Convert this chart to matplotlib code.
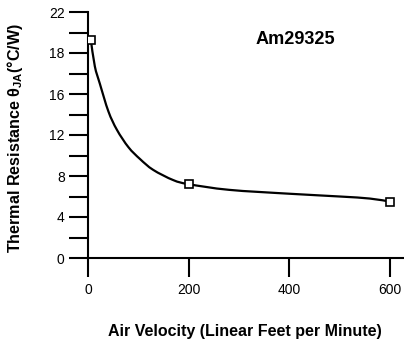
import numpy as np
import matplotlib
matplotlib.use('Agg')
import matplotlib.pyplot as plt
from matplotlib.path import Path
from matplotlib.patches import PathPatch

plt.rcParams['font.family'] = ['Liberation Sans', 'DejaVu Sans']
plt.rcParams['mathtext.fontset'] = 'custom'
plt.rcParams['mathtext.rm'] = 'Liberation Sans:bold'
plt.rcParams['mathtext.it'] = 'Liberation Sans:bold'
plt.rcParams['mathtext.bf'] = 'Liberation Sans:bold'

# measured points (air velocity, theta JA on the axis scale)
velocity = [5, 200, 600]
theta_ja = [21.3, 7.2, 5.5]

# fitted curve
curve_x = [5, 13, 23, 40, 57, 80, 103, 129, 169, 200, 280, 400, 500, 560, 600]
curve_y = [21.3, 18.7, 17.0, 14.3, 12.5, 10.8, 9.65, 8.6, 7.6, 7.2, 6.65, 6.27, 6.0, 5.8, 5.5]

x_ticks = [0, 200, 400, 600]
y_ticks = [0, 4, 8, 12, 16, 20, 24]
y_tick_labels = ['0', '4', '8', '12', '16', '18', '22']
y_minor = [2, 6, 10, 14, 18, 22]

W, H = 404, 344
x0, y0 = 88.3, 258  # pixel position of the origin
fig = plt.figure(figsize=(W / 100, H / 100), dpi=100)
ax = fig.add_axes([x0 / W, (H - y0) / H, (W - x0) / W, (y0 - 12) / H])


def smooth_path(xs, ys, trans):
    # Catmull-Rom through the read points, drawn as bezier segments in pixel space
    p = trans.transform(np.column_stack([xs, ys]))
    verts = [p[0]]
    codes = [Path.MOVETO]
    for i in range(len(p) - 1):
        a = p[i - 1] if i > 0 else p[i]
        b, c = p[i], p[i + 1]
        d = p[i + 2] if i + 2 < len(p) else p[i + 1]
        verts += [b + (c - a) / 6, c - (d - b) / 6, c]
        codes += [Path.CURVE4] * 3
    return Path(verts, codes)


ax.set_xlim(0, 628)
ax.set_ylim(0, 24)

path = smooth_path(curve_x, curve_y, ax.transData)
ax.add_patch(PathPatch(path, facecolor='none', edgecolor='black', linewidth=1.6,
                       transform=None, zorder=2))
ax.plot(velocity, theta_ja, linestyle='none', marker='s', markersize=6,
        markerfacecolor='white', markeredgecolor='black', markeredgewidth=1.2, zorder=3)

ax.set_xticks(x_ticks)
ax.set_yticks(y_ticks)
ax.set_yticklabels(y_tick_labels)
ax.set_yticks(y_minor, minor=True)

for side in ['top', 'right']:
    ax.spines[side].set_visible(False)
for side in ['left', 'bottom']:
    ax.spines[side].set_linewidth(1.5)

ax.tick_params(axis='y', which='both', direction='out', length=14, width=1.5, pad=3, labelsize=10)
ax.tick_params(axis='x', which='major', direction='out', length=14, width=1.5, pad=4, labelsize=10)

xl = ax.set_xlabel('Air Velocity (Linear Feet per Minute)', fontsize=10, fontweight='bold')
yl = ax.set_ylabel(r'Thermal Resistance $\theta_{JA}$(°C/W)', fontsize=10, fontweight='bold')

# place the axis titles in pixel terms (axes fraction)
ax.xaxis.set_label_coords((245 - x0) / (W - x0), (y0 - 324) / (y0 - 12))
ax.yaxis.set_label_coords((25 - x0) / (W - x0), (y0 - 138) / (y0 - 12))

ann = ax.text((295 - x0) / (W - x0), (y0 - 40) / (y0 - 12), 'Am29325', fontsize=11.5,
              fontweight='bold', ha='center', va='center', transform=ax.transAxes)

# scale the bold titles to the widths seen in the reference
fig.canvas.draw()
r = fig.canvas.get_renderer()
for t, target, dim in [(xl, 274, 'w'), (yl, 230, 'h'), (ann, 80, 'w')]:
    bb = t.get_window_extent(r)
    size = bb.width if dim == 'w' else bb.height
    t.set_fontsize(t.get_fontsize() * target / size)

fig.savefig('out.png', dpi=100)
